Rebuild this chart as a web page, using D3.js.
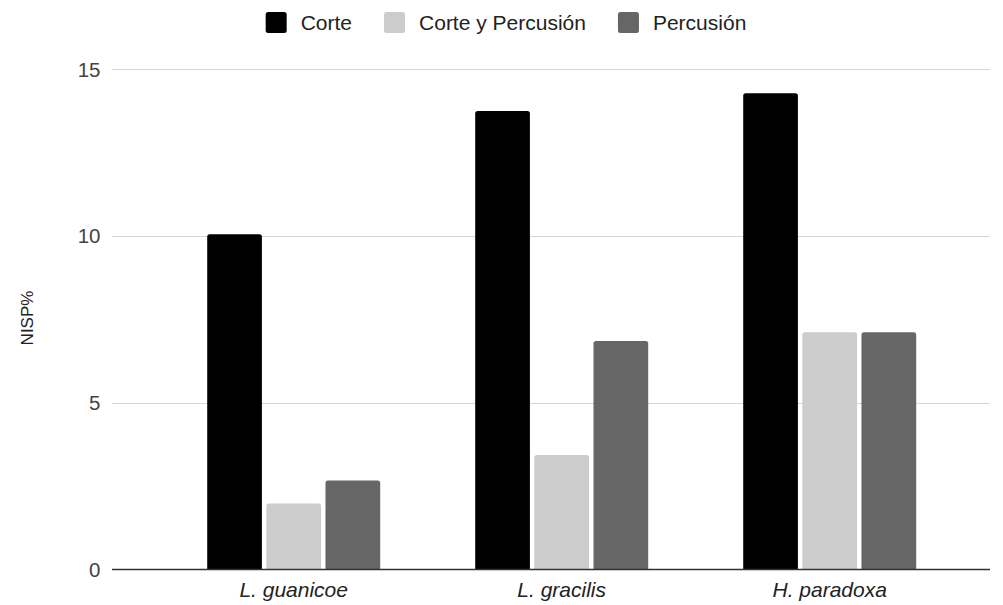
<!DOCTYPE html>
<html>
<head>
<meta charset="utf-8">
<script src="https://cdn.jsdelivr.net/npm/d3@7"></script>
<style>
  html, body { margin: 0; padding: 0; background: #fff; }
  svg { display: block; font-family: "Liberation Sans", Arial, sans-serif; }
</style>
</head>
<body>
<svg id="chart" width="1003" height="605"></svg>
<script>
const categories = ["L. guanicoe", "L. gracilis", "H. paradoxa"];
const seriesNames = ["Corte", "Corte y Percusión", "Percusión"];
const corte = [10.05, 13.74, 14.27];
const cortePercusion = [1.98, 3.43, 7.11];
const percusion = [2.67, 6.85, 7.11];
const yTicks = [0, 5, 10, 15];
const colors = ["#000000", "#cccccc", "#666666"];

const seriesValues = [corte, cortePercusion, percusion];
const data = categories.map((c, i) => ({
  cat: c,
  vals: seriesNames.map((s, j) => ({ key: s, value: seriesValues[j][i], color: colors[j] }))
}));

const svg = d3.select("#chart");
const gridLeft = 112, gridRight = 990;
const y = d3.scaleLinear().domain([0, 15]).range([569.5, 69]);

const x0 = d3.scaleBand().domain(categories).range([159.7, 963.7])
  .paddingInner(0.3545).paddingOuter(0.17725);
const x1 = d3.scaleBand().domain(seriesNames).range([0, x0.bandwidth()]).paddingInner(0.075);

// gridlines
svg.append("g").selectAll("line").data(yTicks.filter(t => t !== 0)).join("line")
  .attr("x1", gridLeft).attr("x2", gridRight)
  .attr("y1", d => Math.round(y(d)) + 0.5).attr("y2", d => Math.round(y(d)) + 0.5)
  .attr("stroke", "#d6d6d6").attr("stroke-width", 1);

// y tick labels
svg.append("g").selectAll("text").data(yTicks).join("text")
  .attr("x", 100.5).attr("y", d => y(d) + 7.5)
  .attr("text-anchor", "end").attr("font-size", 20.5).attr("fill", "#444")
  .text(d => d);

// bars with rounded top corners
function barPath(x, yTop, w, yBase, r) {
  r = Math.min(r, (yBase - yTop), w / 2);
  return `M${x},${yBase}V${yTop + r}Q${x},${yTop} ${x + r},${yTop}H${x + w - r}Q${x + w},${yTop} ${x + w},${yTop + r}V${yBase}Z`;
}
const groups = svg.append("g").selectAll("g").data(data).join("g")
  .attr("transform", d => `translate(${x0(d.cat)},0)`);
groups.selectAll("path").data(d => d.vals).join("path")
  .attr("d", d => barPath(x1(d.key), y(d.value), x1.bandwidth(), y(0), 2.5))
  .attr("fill", d => d.color);

// baseline
svg.append("line").attr("x1", gridLeft).attr("x2", gridRight)
  .attr("y1", 569.5).attr("y2", 569.5).attr("stroke", "#333").attr("stroke-width", 1.3);

// x labels
svg.append("g").selectAll("text").data(categories).join("text")
  .attr("x", d => x0(d) + x0.bandwidth() / 2).attr("y", 597)
  .attr("text-anchor", "middle").attr("font-size", 21).attr("font-style", "italic")
  .attr("fill", "#222").text(d => d);

// y axis title
svg.append("text")
  .attr("transform", "translate(33,318) rotate(-90)")
  .attr("text-anchor", "middle").attr("font-size", 17).attr("fill", "#222")
  .text("NISP%");

// legend
const legend = svg.append("g");
const sq = 21, gapText = 14, gapItem = 32, fs = 21;
let items = [];
let cx = 0;
const tmp = legend.append("g");
seriesNames.forEach((s, i) => {
  const t = tmp.append("text").attr("font-size", fs).text(s);
  const w = t.node().getComputedTextLength();
  items.push({ s, i, x: cx, w });
  cx += sq + gapText + w + gapItem;
  t.remove();
});
const totalW = cx - gapItem;
const startX = 506 - totalW / 2;
items.forEach(it => {
  legend.append("rect").attr("x", startX + it.x).attr("y", 12).attr("width", sq).attr("height", sq)
    .attr("rx", 2.5).attr("fill", colors[it.i]);
  legend.append("text").attr("x", startX + it.x + sq + gapText).attr("y", 30)
    .attr("font-size", fs).attr("fill", "#222").text(it.s);
});
</script>
</body>
</html>
